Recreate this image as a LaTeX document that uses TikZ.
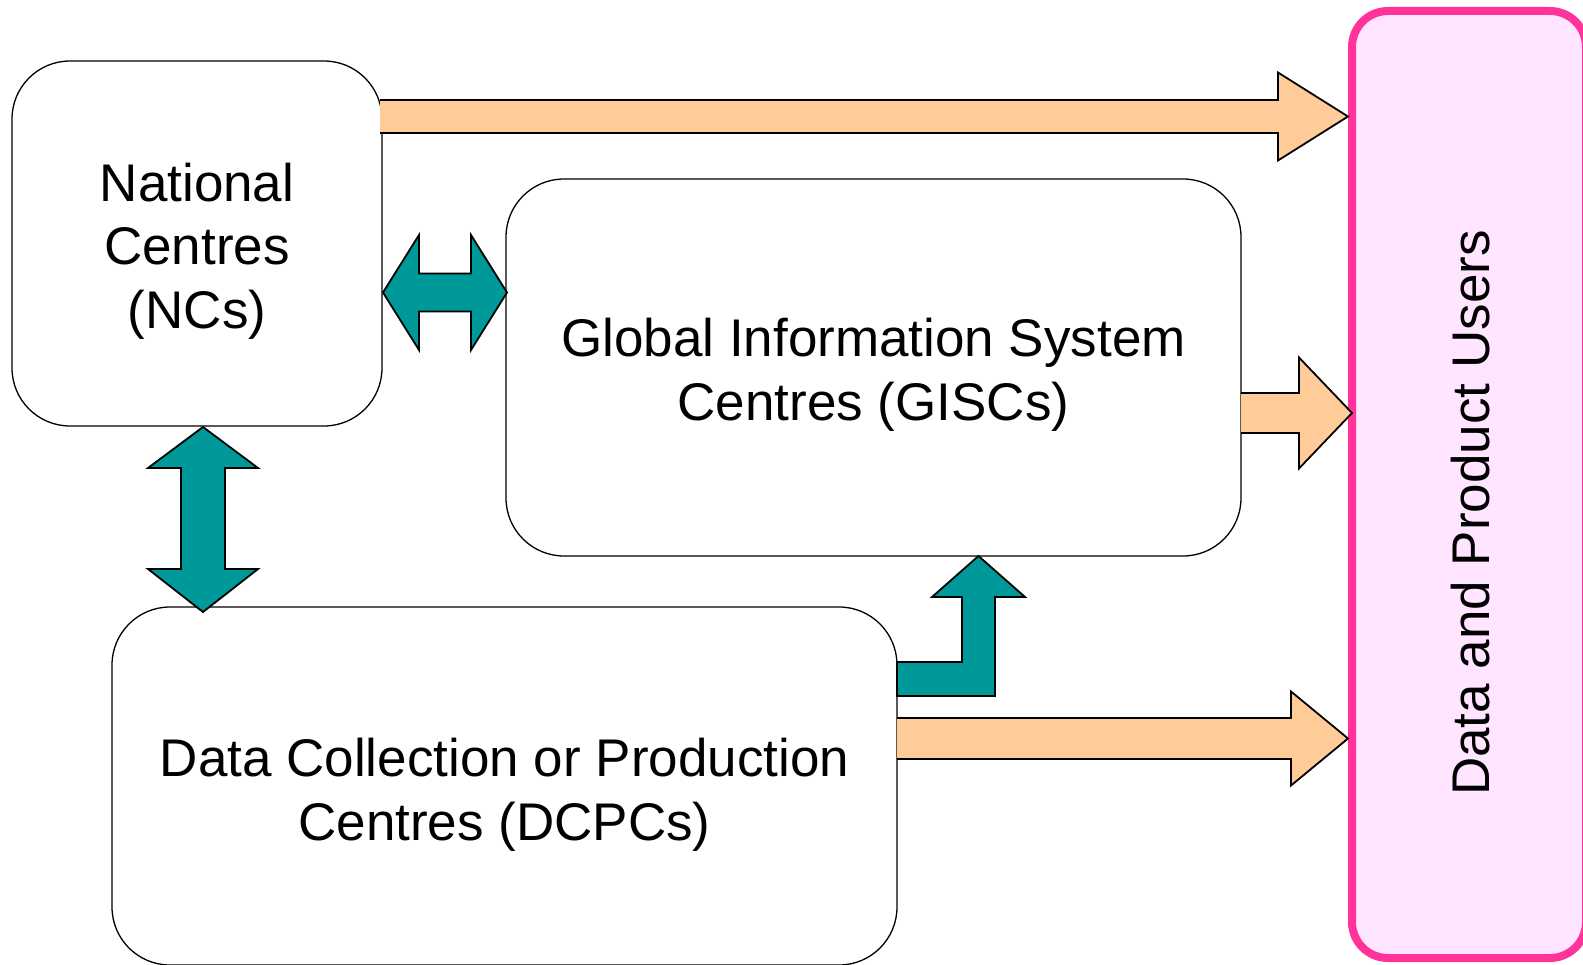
\documentclass[tikz,border=0pt]{standalone}
\usepackage{fontspec}
\setmainfont{Liberation Sans}
\usetikzlibrary{calc}
\definecolor{tealfill}{HTML}{009999}
\definecolor{peach}{HTML}{FFCC99}
\definecolor{pinkline}{HTML}{FF3399}
\definecolor{pinkfill}{HTML}{FFE5FF}
\begin{document}
\begin{tikzpicture}[x=1pt,y=-1pt,
  centrebox/.style={draw=black, line width=1.3pt, fill=white, rounded corners=58pt, inner sep=0pt, outer sep=0pt},
  userbox/.style={draw=pinkline, fill=pinkfill, line width=8pt, rounded corners=36pt, inner sep=0pt, outer sep=0pt},
  boxtext/.style={font=\fontsize{53}{63.6}\selectfont, align=center, inner sep=0pt},
  tealarrow/.style={draw=black, line width=1.8pt, fill=tealfill, line join=miter},
  peacharrow/.style={draw=black, line width=1.8pt, fill=peach, line join=miter},
]
\useasboundingbox (0,0) rectangle (1583,965);

% boxes
\node[centrebox, minimum width=370pt, minimum height=365pt] (nc) at (197,243.5) {};
\node[centrebox, minimum width=735pt, minimum height=377pt] (gisc) at (873.5,367.5) {};
\node[centrebox, minimum width=785pt, minimum height=358pt] (dcpc) at (504.5,786) {};
\node[userbox, minimum width=234pt, minimum height=947pt] (users) at (1469,484.5) {};

% texts
\node[boxtext] (nctext) at ($(nc.center)+(0,7.5)$) {National\\Centres\\(NCs)};
\node[boxtext] (gisctext) at ($(gisc.center)+(0,7.5)$) {Global Information System\\Centres (GISCs)};
\node[boxtext] (dcpctext) at ($(dcpc.center)+(0,9)$) {Data Collection or Production\\Centres (DCPCs)};
\node[boxtext, rotate=90, anchor=base] (userstext) at (1489,513) {Data and Product Users};

% helper coordinates
\coordinate (y1) at (0,116.5);
\coordinate (y2) at (0,413);
\coordinate (y3) at (0,738.5);
\coordinate (yh) at (0,292.5);
\coordinate (xv) at (203,0);
\coordinate (xb) at (978.5,0);

% orange arrows to users
\coordinate (a1s) at ($(nc.east |- y1)+(-2,0)$);
\coordinate (a1e) at ($(users.west |- y1)+(-4,0)$);
\draw[peacharrow] ($(a1s)+(0,-16.5)$) -- ($(a1e)+(-70,-16.5)$) -- ($(a1e)+(-70,-44)$) -- (a1e)
  -- ($(a1e)+(-70,44)$) -- ($(a1e)+(-70,16.5)$) -- ($(a1s)+(0,16.5)$);

\coordinate (a2s) at (gisc.east |- y2);
\coordinate (a2e) at (users.west |- y2);
\draw[peacharrow] ($(a2s)+(0,-20)$) -- ($(a2e)+(-53,-20)$) -- ($(a2e)+(-53,-55.5)$) -- (a2e)
  -- ($(a2e)+(-53,55.5)$) -- ($(a2e)+(-53,20)$) -- ($(a2s)+(0,20)$);

\coordinate (a3s) at (dcpc.east |- y3);
\coordinate (a3e) at ($(users.west |- y3)+(-4,0)$);
\draw[peacharrow] ($(a3s)+(0,-20.5)$) -- ($(a3e)+(-57,-20.5)$) -- ($(a3e)+(-57,-47)$) -- (a3e)
  -- ($(a3e)+(-57,47)$) -- ($(a3e)+(-57,20.5)$) -- ($(a3s)+(0,20.5)$);

% teal double arrow NC <-> GISC
\coordinate (h1) at ($(nc.east |- yh)+(1,0)$);
\coordinate (h2) at ($(gisc.west |- yh)+(1,0)$);
\draw[tealarrow] (h1) -- ($(h1)+(36,-57.5)$) -- ($(h1)+(36,-19)$) -- ($(h2)+(-36,-19)$)
  -- ($(h2)+(-36,-57.5)$) -- (h2) -- ($(h2)+(-36,57.5)$) -- ($(h2)+(-36,19)$)
  -- ($(h1)+(36,19)$) -- ($(h1)+(36,57.5)$) -- cycle;

% teal double arrow NC <-> DCPC
\coordinate (v1) at ($(nc.south -| xv)+(0,1)$);
\coordinate (v2) at ($(dcpc.north -| xv)+(0,5)$);
\draw[tealarrow] (v1) -- ($(v1)+(55,41)$) -- ($(v1)+(22,41)$) -- ($(v2)+(22,-43)$)
  -- ($(v2)+(55,-43)$) -- (v2) -- ($(v2)+(-55,-43)$) -- ($(v2)+(-22,-43)$)
  -- ($(v1)+(-22,41)$) -- ($(v1)+(-55,41)$) -- cycle;

% teal bent arrow DCPC -> GISC
\coordinate (bt) at (gisc.south -| xb);
\coordinate (bband) at ($(bt)+(0,106)$);
\coordinate (bl) at (dcpc.east |- bband);
\draw[tealarrow] (bl) -- ($(bt)+(-16.5,106)$) -- ($(bt)+(-16.5,41)$) -- ($(bt)+(-46.5,41)$)
  -- (bt) -- ($(bt)+(46.5,41)$) -- ($(bt)+(16.5,41)$) -- ($(bt)+(16.5,140)$)
  -- ($(bl)+(0,34)$) -- cycle;
\end{tikzpicture}
\end{document}
